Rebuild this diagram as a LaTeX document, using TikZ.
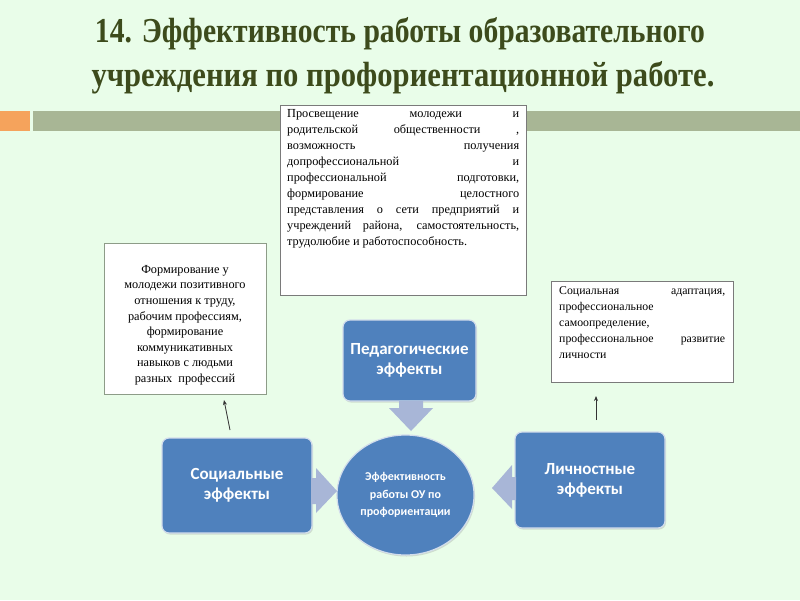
\documentclass[tikz,border=0pt]{standalone}
\usepackage{fontspec}
\usepackage{graphicx}
\setmainfont{Liberation Serif}
\newfontfamily\calib{Carlito}
\usetikzlibrary{arrows.meta,shapes.geometric,shadows}
\definecolor{bg}{HTML}{E9FDE9}
\definecolor{titlecol}{HTML}{3D4B1C}
\definecolor{orangebar}{HTML}{F5A35C}
\definecolor{greenbar}{HTML}{A8B695}
\definecolor{blueshape}{HTML}{4F81BD}
\definecolor{blueedge}{HTML}{D3DDEC}
\definecolor{blockarrow}{HTML}{A8B6D7}
\definecolor{boxedge}{HTML}{7A7A7A}
\definecolor{boxedgegreen}{HTML}{8D9C88}
\tikzset{
  titletext/.style={anchor=base, inner sep=0pt, text=titlecol, font=\fontsize{35}{40}\selectfont\bfseries},
  whitebox/.style={draw=boxedge, fill=white, line width=0.9pt, inner sep=0pt},
  boxtext/.style={anchor=north west, inner sep=0pt, align=justify},
  bluebox/.style={rounded corners=7pt, fill=blueshape, draw=blueedge, line width=1.2pt,
     text=white, align=center, font=\calib\bfseries\fontsize{17}{20}\selectfont,
     drop shadow={opacity=0.25, shadow xshift=1pt, shadow yshift=-1.5pt}},
  blockarr/.style={fill=blockarrow, draw=none},
  thinarrow/.style={draw=black!80, line width=0.8pt, -{Stealth[length=5pt,width=4pt]}}
}
\begin{document}
\begin{tikzpicture}[x=1pt,y=-1pt]
\fill[bg] (0,0) rectangle (800,600);
\useasboundingbox (0,0) rectangle (800,600);

% title
\node[titletext] (t1) at (400,42) {\resizebox{610pt}{\height}{14. Эффективность работы образовательного}};
\node[titletext] (t2) at (403,86) {\resizebox{623pt}{\height}{учреждения по профориентационной работе.}};

% bar
\fill[orangebar] (0,111) rectangle (30,131);
\fill[greenbar] (33,111) rectangle (800,131);

% top text box
\node[whitebox, minimum width=246pt, minimum height=190pt, anchor=north west] (topbox) at (280,105) {};
\node[boxtext, text width=232pt, font=\fontsize{12.3}{16}\selectfont] (toptext) at (287,109)
{\hyphenpenalty=10000 Просвещение молодежи и\linebreak
родительской общественности ,\linebreak
возможность получения\linebreak
допрофессиональной и\linebreak
профессиональной подготовки,\linebreak
формирование целостного\linebreak
представления о сети предприятий и\linebreak
учреждений района, самостоятельность,\linebreak
трудолюбие и работоспособность.};

% left text box
\node[whitebox, draw=boxedgegreen, line width=1.2pt, minimum width=162pt, minimum height=151pt, anchor=north west] (leftbox) at (104,243) {};
\node[inner sep=0pt, align=center, anchor=north, font=\fontsize{12.3}{15.6}\selectfont] (lefttext) at (185,265)
{Формирование у\\ молодежи позитивного\\ отношения к труду,\\ рабочим профессиям,\\ формирование\\ коммуникативных\\ навыков с людьми\\ разных\ \ профессий};

% right text box
\node[whitebox, minimum width=182pt, minimum height=101pt, anchor=north west] (rightbox) at (551,281) {};
\node[boxtext, text width=166pt, font=\fontsize{11.8}{16}\selectfont] (righttext) at (559,286)
{\hyphenpenalty=10000 Социальная адаптация,\linebreak
профессиональное\linebreak
самоопределение,\linebreak
профессиональное развитие\linebreak
личности};

% blue shapes
\node[bluebox, minimum width=133pt, minimum height=81pt] (ped) at (409.5,360.5) {Педагогические\\эффекты};
\node[bluebox, minimum width=150pt, minimum height=95pt] (soc) at (237,485.5) {Социальные\\эффекты};
\node[bluebox, minimum width=150pt, minimum height=96pt] (lich) at (590,480) {Личностные\\эффекты};
\node[ellipse, fill=blueshape, draw=blueedge, line width=1.2pt, minimum width=136pt, minimum height=120pt,
      text=white, align=center, font=\calib\bfseries\fontsize{12}{17.5}\selectfont,
      drop shadow={opacity=0.25, shadow xshift=1pt, shadow yshift=-1.5pt}] (eff) at (405.5,495)
      {Эффективность\\работы ОУ по\\профориентации};

% block arrows
\fill[blockarr] (399,401) -- (423,401) -- (423,408) -- (433,408) -- (411,431) -- (389,408) -- (399,408) -- cycle;
\fill[blockarr] (311,478) -- (316,478) -- (316,468) -- (337,491) -- (316,513) -- (316,504) -- (311,504) -- cycle;
\fill[blockarr] (516,477) -- (512,477) -- (512,465) -- (492,488) -- (512,509) -- (512,500) -- (516,500) -- cycle;

% thin arrows
\coordinate (la) at (230,430);
\coordinate (lb) at (224,400);
\coordinate (ra) at (596,420);
\coordinate (rb) at (596,396);
\draw[thinarrow] (la) -- (lb);
\draw[thinarrow] (ra) -- (rb);
\end{tikzpicture}
\end{document}
